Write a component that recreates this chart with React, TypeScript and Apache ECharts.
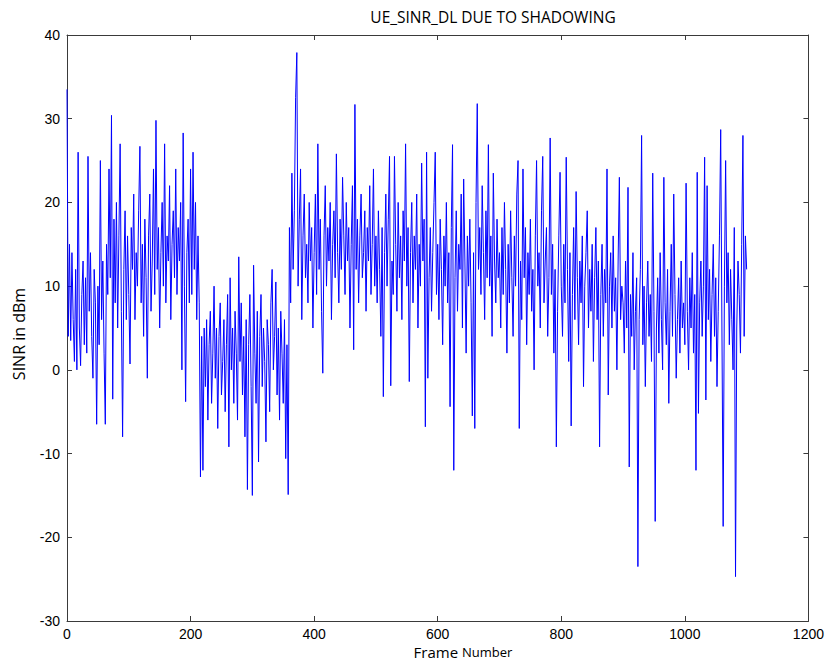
import React, { useEffect, useRef } from "react";
import * as echarts from "echarts";

const seg0 = [33.5, 4, 15, 3.5, 14, 6, 1, 12, 0, 26, 5, 0.5, 9, 13, 3, 11, 2, 25.5, 7, 14, 4, -1, 12, 8, -6.5, 10, 3, 25, 6, 13, 2, -6.5, 15, 9, 24, 11, 30.4, -3.5, 18, 8, 20, 5, 16, 27, 7, -8, 12, 19, 6, 16];
const seg1 = [9, 0.7, 17, 12, 21, 6, 14, 10, 19, 26.7, 8, 15, 4, 18, 11, -1, 16, 21, 7, 13, 24, 9, 29.8, 12, 17, 5, 14, 20, 10, 27, 8, 16, 13, 22, 6, 15, 19, 11, 24, 9, 17, 13, 20, 0, 28.3, 10, -3.8, 14, 18, 8];
const seg2 = [24, 9, 26, 12, 20, 6, 16, 8, -12.8, 4, -12, 5, -2, 6, -6, 3, 7, -4, 2, 10, -1, 5, -7, 4, 8, -3, 1, 6, -5, 3, 9, -9.2, 11, 0, 5, -4, 7, 2, -6, 13.5, 1, 8, -3, 4, -8, 6, -14.3, 3, 9, -2];
const seg3 = [-15, 12.5, 2, -4, 7, -11, 4, 9, -2, 5, 1, -8.6, 6, 3, -5, 8, 12, 0, 4, 10.5, -3, 5, -6, 7, 2, -4, 6, -10.6, 3, -14.9, 17, 8, 23.5, 12, 19, 32.5, 37.9, 10, 18, 24, 6, 16, 21, 11, 15, 8, 20, 13, 17, 5];
const seg4 = [14, 21, 9, 27, 12, 18, 7, -0.4, 16, 22, 10, 17, 13, 20, 6, 15, 19, 11, 25.8, 14, 8, 18, 12, 23, 16, 9, 20, 13, 17, 5, 15, 22, 2.4, 31.7, 12, 18, 8, 16, 21, 11, 14, 19, 7, 17, 13, 22, 9, 15, 24, 10];
const seg5 = [16, 8, 19, 12, 4, 17, -3.2, 14, 21, 10, 18, 25.5, -1.9, 13, 9, 25.5, 15, 7, 20, 11, 16, 6, 19, 13, 27, 10, 17, -1.4, 14, 20, 8, 16, 12, 21, 5, 15, 10, 24.7, 13, 18, -6.8, 26, -1, 11, 17, 7, 14, 20, 26, 9];
const seg6 = [15, 6, 18, 12, 3, 16, 10, 20, 8, 14, -4.4, 17, 26.9, -12, 11, 19, 7, 15, 12, 21, 5, 22.8, 13, 2, 16, 10, 18, 8, -5.5, 14, -7, 20, 31.8, 12, 17, 9, 22, 14, 6, 19, 11, 26.9, 10, 16, 4, 23.5, 13, 8, 18, 11];
const seg7 = [14, 5, 17, 9, 20, 12, 2, 15, 8, 19, 11, 4, 16, 10, 21, 25, -7, 13, 6, 24, 11, 17, 3, 14, 9, 18, 7, 12, 0, 16, 25, 10, 14, 5, 19, 25.5, 8, 13, 17, 4, 11, 27.7, 9, 15, 2, 12, -9.2, 7, 16, 23.6];
const seg8 = [10, 4, 15, 8, 25.4, 12, 1, 14, -6.7, 9, 17, 6, 21.3, 11, 3, 13, 8, 16, -2, 10, 14, 19, 5, 12, 7, 15, 1, 11, 17, 6, 13, -9.2, 9, 15, 4, 12, 8, 24, -3, 10, 14, 5, 16, 7, 11, 0, 13, 23, 6, 10];
const seg9 = [8, 2, 13, 5, 21.8, -11.6, 9, 4, 14, 0, 7, 11, -23.5, 6, 12, 28, 3, 10, -2, 8, 13, 4, 9, 1, 23.5, 7, -18.1, 5, 11, 2, 14, 6, 0, 23, 8, 3, 12, -4, 7, 15, 4, 21, 9, -1, 6, 11, 2, 13, 5, 8];
const seg10 = [3, 22.3, 7, 0, 11, 5, 14, 2, 9, -12, 23.6, -5.2, 8, 13, 4, 10, 25.4, -3.6, 22, 6, 12, 1, 9, 15, 4, 11, -2, 7, 16, 28.7, 5, -18.7, 10, 25, 8, 14, 3, 12, 6, 0, 17, -24.7, 5, 13, 9, 2, 15, 28, 4, 16];
const lastValue = [12];

const sinr = [...seg0, ...seg1, ...seg2, ...seg3, ...seg4, ...seg5, ...seg6, ...seg7, ...seg8, ...seg9, ...seg10, ...lastValue];
const frameStep = 2;

const xMin = 0, xMax = 1200, xInterval = 200;
const yMin = -30, yMax = 40, yInterval = 10;

const titleText = "UE_SINR_DL DUE TO SHADOWING";
const yName = "SINR in dBm";

export default function App() {
  const ref = useRef<HTMLDivElement>(null);
  useEffect(() => {
    if (!ref.current) return;
    const chart = echarts.init(ref.current, null, { renderer: "svg" });
    const data = sinr.map((v, i) => [i * frameStep, v]);
    const axisColor = "#3a3a3a";
    const labelFont = { fontFamily: "Liberation Sans Narrow, Liberation Sans, Arial", fontSize: 14, color: "#000" };
    const plain = (v: number) => String(v);
    const baseX = {
      type: "value" as const, min: xMin, max: xMax, interval: xInterval,
      axisLine: { show: true, onZero: false, lineStyle: { color: axisColor, width: 1 } },
      axisTick: { show: true, inside: true, length: 5, lineStyle: { color: axisColor } },
      splitLine: { show: false },
    };
    const baseY = {
      type: "value" as const, min: yMin, max: yMax, interval: yInterval,
      axisLine: { show: true, onZero: false, lineStyle: { color: axisColor, width: 1 } },
      axisTick: { show: true, inside: true, length: 5, lineStyle: { color: axisColor } },
      splitLine: { show: false },
    };
    chart.setOption({
      animation: false,
      backgroundColor: "#ffffff",
      grid: { left: 67, right: 17, top: 35, bottom: 43, containLabel: false },
      xAxis: [
        { ...baseX, position: "bottom", axisLabel: { ...labelFont, margin: 6, formatter: plain } },
        { ...baseX, position: "top", axisLabel: { show: false } },
      ],
      yAxis: [
        { ...baseY, position: "left", axisLabel: { ...labelFont, margin: 7, formatter: plain } },
        { ...baseY, position: "right", axisLabel: { show: false } },
      ],
      series: [
        {
          type: "line",
          data,
          xAxisIndex: 0,
          yAxisIndex: 0,
          showSymbol: false,
          symbol: "none",
          lineStyle: { color: "#0000ff", width: 1 },
        },
      ],
      graphic: [
        {
          type: "text",
          x: 493, y: 17,
          style: {
            text: titleText, textAlign: "center", textVerticalAlign: "middle",
            fontFamily: "Open Sans, Liberation Sans", fontSize: 15.5, fill: "#000",
          },
        },
        {
          type: "text",
          x: 463, y: 652,
          style: {
            text: "{a|Frame}{s| }{b|Number}", textAlign: "center", textVerticalAlign: "middle",
            rich: {
              a: { fontFamily: "Open Sans, Liberation Sans", fontSize: 15, fill: "#000" },
              s: { fontFamily: "Open Sans, Liberation Sans", fontSize: 15, fill: "#000" },
              b: { fontFamily: "Open Sans, Liberation Sans", fontSize: 13, fill: "#000" },
            },
          },
        },
        {
          type: "text",
          x: 19, y: 334, rotation: Math.PI / 2,
          style: {
            text: yName, textAlign: "center", textVerticalAlign: "middle",
            fontFamily: "Open Sans, Liberation Sans", fontSize: 16, fill: "#000",
          },
        },
      ],
    });
    return () => chart.dispose();
  }, []);
  return <div ref={ref} style={{ position: "fixed", left: 0, top: 0, width: 827, height: 664 }} />;
}
